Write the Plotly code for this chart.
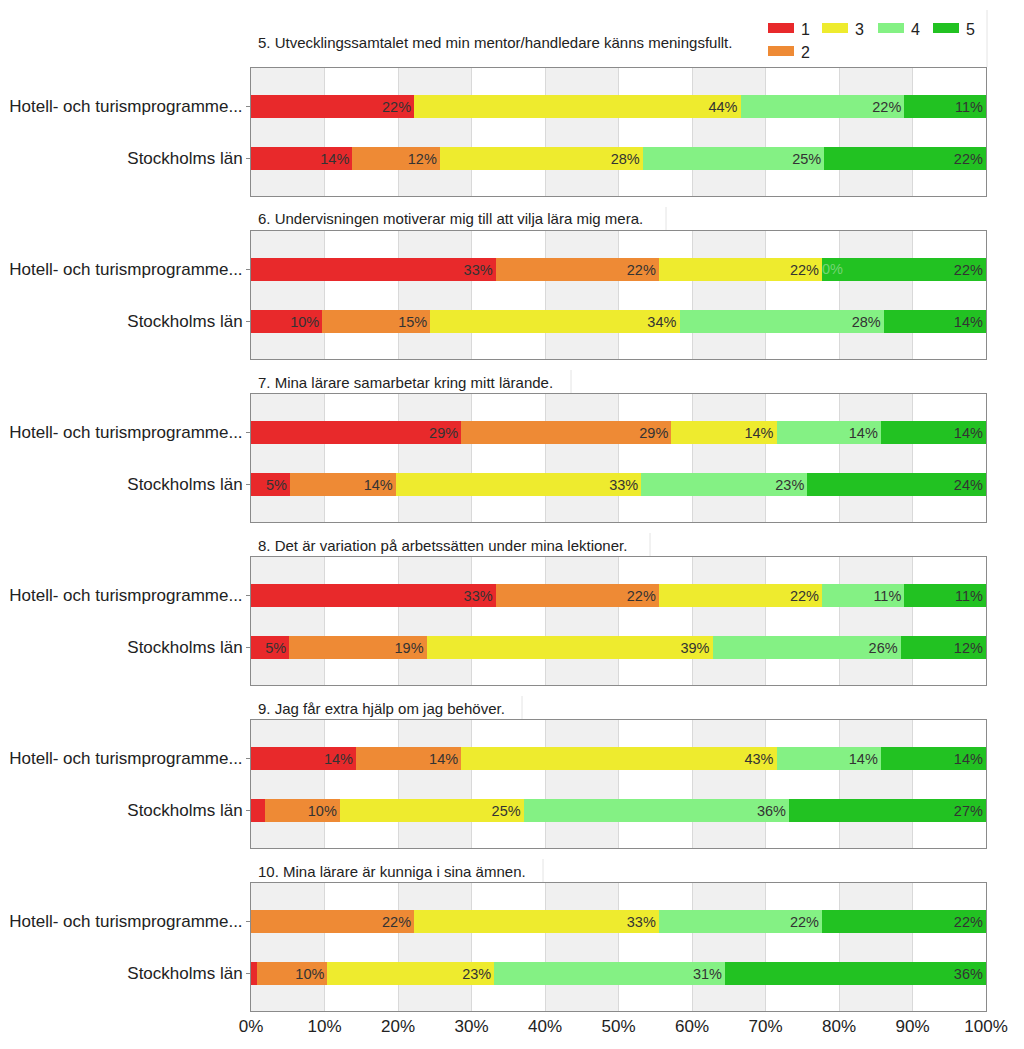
import plotly.graph_objects as go

titles = [
    "5. Utvecklingssamtalet med min mentor/handledare känns meningsfullt.",
    "6. Undervisningen motiverar mig till att vilja lära mig mera.",
    "7. Mina lärare samarbetar kring mitt lärande.",
    "8. Det är variation på arbetssätten under mina lektioner.",
    "9. Jag får extra hjälp om jag behöver.",
    "10. Mina lärare är kunniga i sina ämnen.",
]
groups = ["Hotell- och turismprogramme...", "Stockholms län"]
answer_labels = ["1", "2", "3", "4", "5"]
colors = ["#E8292B", "#EE8A35", "#EEEB2E", "#84F184", "#22C222"]

# values per question: [Hotell..., Stockholms län], each list = answers 1..5 (%)
hotell = [
    [22.2, 0.0, 44.4, 22.3, 11.1],
    [33.3, 22.2, 22.2, 0.0, 22.3],
    [28.6, 28.6, 14.3, 14.2, 14.3],
    [33.3, 22.2, 22.2, 11.2, 11.1],
    [14.3, 14.3, 42.9, 14.2, 14.3],
    [0.0, 22.2, 33.3, 22.2, 22.3],
]
stockholm = [
    [13.8, 11.9, 27.6, 24.7, 22.0],
    [9.7, 14.7, 33.9, 27.8, 13.9],
    [5.3, 14.4, 33.4, 22.6, 24.3],
    [5.2, 18.7, 38.9, 25.6, 11.6],
    [1.9, 10.2, 25.0, 36.1, 26.8],
    [0.8, 9.6, 22.7, 31.4, 35.5],
]
# explicit "0%" labels shown in the source: (question index, group index, answer index)
zero_labels = [(1, 0, 3)]
x_ticks = [0, 10, 20, 30, 40, 50, 60, 70, 80, 90, 100]

FONT = "Liberation Sans, Arial"
OFF = 8                      # page body margin
W, H = 1024 - OFF, 1049 - OFF
ML, MR, MT, MB = 251 - OFF, 38, 0, 38
PH = H - MT - MB
PW = W - ML - MR

# right edges (page px) of the faint title frames
title_frame_right = [987, 666, 571, 650, 522, 543]


def py(page_px):
    f = page_px - OFF
    return (PH - (f - MT)) / PH


def pxx(page_px):
    f = page_px - OFF
    return (f - ML) / PW


fig = go.Figure()

for k in range(6):
    ax = "" if k == 0 else str(k + 1)
    for a in range(5):
        vals = [hotell[k][a], stockholm[k][a]]
        fig.add_trace(go.Bar(
            x=vals, y=[1, 0], orientation="h",
            name=answer_labels[a],
            marker=dict(color=colors[a], line=dict(width=0)),
            width=0.45,
            text=[f"{round(v)}%" for v in vals],
            textposition="inside", insidetextanchor="end", textangle=0,
            insidetextfont=dict(size=14.5, color="#333333", family=FONT),
            showlegend=False,
            xaxis="x" + ax, yaxis="y" + ax,
            hoverinfo="x+name",
        ))
    for (q, gi, a) in zero_labels:
        if q == k:
            row = [hotell, stockholm][gi][k]
            start = sum(row[:a])
            fig.add_annotation(x=start, y=1 - gi, xref="x" + ax, yref="y" + ax,
                               text=f"{round(row[a])}%", showarrow=False, xanchor="left",
                               xshift=-2, font=dict(size=14.5, color="#74d574", family=FONT))

    top = 68 + 163 * k
    bot = top + 128
    dom = [max(0.0, py(bot)), min(1.0, py(top))]
    fig.update_layout(**{
        "xaxis" + ax: dict(
            domain=[0, 1], range=[0, 100], anchor="y" + ax,
            tickvals=x_ticks, ticktext=[f"{t}%" for t in x_ticks],
            showticklabels=(k == 5), ticks="",
            showgrid=True, gridcolor="#d9d9d9", gridwidth=1,
            showline=True, linecolor="#8a8a8a", mirror=True, linewidth=1,
            zeroline=False, fixedrange=True,
            tickfont=dict(size=17, color="#222222", family=FONT),
        ),
        "yaxis" + ax: dict(
            domain=dom, range=[-0.72, 1.74], anchor="x" + ax,
            tickvals=[1, 0], ticktext=groups,
            ticks="outside", ticklen=4, tickcolor="#888888",
            showgrid=False, zeroline=False,
            showline=True, linecolor="#8a8a8a", mirror=True, linewidth=1,
            tickfont=dict(size=17, color="#222222", family=FONT),
            fixedrange=True,
        ),
    })
    for b in range(0, 100, 20):
        fig.add_shape(type="rect", xref="x" + ax, yref="y" + ax + " domain",
                      x0=b, x1=b + 10, y0=0, y1=1, fillcolor="#f0f0f0",
                      line=dict(width=0), layer="below")
    title_y = 42 if k == 0 else top - 12
    fig.add_annotation(text=titles[k], xref="paper", yref="paper",
                       x=pxx(256), y=py(title_y), xanchor="left", yanchor="middle",
                       showarrow=False,
                       font=dict(size=15, color="#222222", family=FONT))
    fr = title_frame_right[k]
    fig.add_shape(type="line", xref="paper", yref="paper",
                  x0=pxx(fr), x1=pxx(fr), y0=py(top - 1), y1=py(10 if k == 0 else top - 24),
                  line=dict(color="#e4e4e4", width=1))

# legend (drawn as swatches + labels, laid out like the source: 1 3 4 5 / 2)
legend_pos = {0: (768, 28), 1: (768, 51), 2: (822, 28), 3: (878, 28), 4: (933, 28)}
for a, (lx, ly) in legend_pos.items():
    fig.add_shape(type="rect", xref="paper", yref="paper",
                  x0=pxx(lx), x1=pxx(lx + 26), y0=py(ly + 5), y1=py(ly - 5),
                  fillcolor=colors[a], line=dict(width=0))
    fig.add_annotation(text=answer_labels[a], xref="paper", yref="paper",
                       x=pxx(lx + 31), y=py(ly + 1), xanchor="left", yanchor="middle",
                       showarrow=False, font=dict(size=16, color="#222222", family=FONT))

fig.update_layout(
    width=W, height=H,
    margin=dict(l=ML, r=MR, t=MT, b=MB),
    barmode="stack",
    plot_bgcolor="white", paper_bgcolor="white",
    font=dict(family=FONT, color="#222222"),
    uniformtext=dict(minsize=13, mode="hide"),
    showlegend=False,
)

fig.write_html("out.html")
